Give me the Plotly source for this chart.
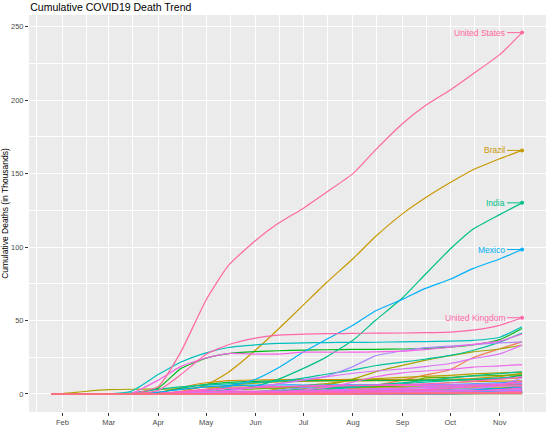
import math
import plotly.graph_objects as go

# semi-monthly snapshot dates, cumulative deaths in thousands
dates = ["2020-01-25", "2020-02-01", "2020-02-15", "2020-03-01", "2020-03-15",
         "2020-04-01", "2020-04-15", "2020-05-01", "2020-05-15", "2020-06-01",
         "2020-06-15", "2020-07-01", "2020-07-15", "2020-08-01", "2020-08-15",
         "2020-09-01", "2020-09-15", "2020-10-01", "2020-10-15", "2020-11-01",
         "2020-11-15"]

afghanistan = [0, 0, 0, 0, 0, 0.004, 0.02, 0.06, 0.15, 0.3, 0.5, 0.7, 1.0, 1.3, 1.4, 1.4, 1.4, 1.5, 1.5, 1.5, 1.6]
algeria = [0, 0, 0, 0, 0.004, 0.06, 0.37, 0.45, 0.56, 0.7, 0.8, 0.9, 1.0, 1.2, 1.4, 1.5, 1.6, 1.7, 1.8, 1.9, 2.0]
argentina = [0, 0, 0, 0, 0, 0.02, 0.09, 0.2, 0.4, 0.6, 0.9, 1.3, 2.1, 3.8, 5.8, 9.4, 12.8, 16.5, 24.6, 30.8, 35.4]
armenia = [0, 0, 0, 0, 0, 0.002, 0.01, 0.03, 0.05, 0.1, 0.2, 0.4, 0.5, 0.7, 0.8, 0.9, 0.9, 0.9, 1.1, 1.5, 1.7]
australia = [0, 0, 0, 0, 0.005, 0.02, 0.06, 0.09, 0.1, 0.1, 0.1, 0.1, 0.12, 0.2, 0.4, 0.66, 0.82, 0.88, 0.9, 0.91, 0.91]
austria = [0, 0, 0, 0, 0.001, 0.15, 0.4, 0.58, 0.62, 0.67, 0.67, 0.7, 0.7, 0.72, 0.73, 0.73, 0.76, 0.79, 0.86, 1.0, 1.6]
bangladesh = [0, 0, 0, 0, 0, 0.005, 0.05, 0.16, 0.3, 0.6, 1.0, 1.8, 2.5, 3.1, 3.5, 4.1, 4.6, 5.0, 5.4, 5.9, 6.2]
belarus = [0, 0, 0, 0, 0, 0.002, 0.03, 0.1, 0.1, 0.2, 0.3, 0.4, 0.5, 0.6, 0.6, 0.7, 0.7, 0.8, 0.9, 1.0, 1.1]
belgium = [0, 0, 0, 0, 0.004, 0.83, 4.4, 7.6, 9.1, 9.5, 9.7, 9.75, 9.8, 9.85, 9.9, 9.9, 9.95, 10.0, 10.4, 11.9, 14.0]
bolivia = [0, 0, 0, 0, 0, 0.01, 0.03, 0.06, 0.17, 0.4, 0.65, 1.2, 2.0, 3.3, 4.6, 5.6, 6.6, 7.6, 8.3, 8.7, 8.9]
bosnia = [0, 0, 0, 0, 0, 0.01, 0.04, 0.06, 0.08, 0.15, 0.16, 0.17, 0.2, 0.3, 0.4, 0.5, 0.6, 0.7, 0.8, 1.1, 1.5]
brazil = [0, 0, 0, 0, 0, 0.24, 1.7, 6.0, 14.8, 29.9, 43.9, 60.6, 75.4, 92.0, 107.0, 122.6, 133.2, 143.9, 152.5, 160.1, 165.8]
bulgaria = [0, 0, 0, 0, 0, 0.01, 0.03, 0.07, 0.1, 0.13, 0.17, 0.23, 0.3, 0.37, 0.46, 0.6, 0.7, 0.8, 0.9, 1.3, 1.9]
canada = [0, 0, 0, 0, 0.001, 0.11, 1.2, 3.2, 5.7, 7.3, 8.2, 8.6, 8.8, 8.9, 9.0, 9.1, 9.2, 9.3, 9.6, 10.2, 11.1]
chile = [0, 0, 0, 0, 0, 0.01, 0.1, 0.23, 0.42, 1.05, 3.4, 5.7, 7.0, 9.3, 10.4, 11.3, 12.0, 12.7, 13.6, 14.4, 14.9]
china = [0.04, 0.26, 1.67, 2.87, 3.2, 3.3, 3.35, 4.64, 4.64, 4.64, 4.64, 4.64, 4.64, 4.65, 4.7, 4.7, 4.7, 4.7, 4.7, 4.7, 4.7]
colombia = [0, 0, 0, 0, 0, 0.02, 0.13, 0.28, 0.57, 0.94, 1.6, 3.6, 6.0, 10.1, 15.0, 19.4, 22.8, 26.0, 28.6, 30.6, 33.3]
costa_rica = [0, 0, 0, 0, 0, 0.002, 0.006, 0.006, 0.007, 0.01, 0.01, 0.02, 0.04, 0.2, 0.36, 0.5, 0.7, 0.8, 1.0, 1.2, 1.4]
croatia = [0, 0, 0, 0, 0, 0.005, 0.03, 0.08, 0.1, 0.1, 0.1, 0.1, 0.12, 0.14, 0.17, 0.2, 0.24, 0.28, 0.35, 0.5, 0.9]
czechia = [0, 0, 0, 0, 0, 0.02, 0.17, 0.23, 0.29, 0.32, 0.33, 0.35, 0.36, 0.38, 0.4, 0.43, 0.5, 0.72, 1.4, 3.5, 5.6]
denmark = [0, 0, 0, 0, 0.004, 0.1, 0.32, 0.44, 0.54, 0.57, 0.6, 0.6, 0.61, 0.62, 0.62, 0.63, 0.64, 0.65, 0.68, 0.71, 0.76]
dominican = [0, 0, 0, 0, 0, 0.04, 0.2, 0.3, 0.4, 0.5, 0.6, 0.7, 0.8, 1.0, 1.1, 1.7, 1.9, 2.1, 2.2, 2.3, 2.3]
ecuador = [0, 0, 0, 0, 0, 0.06, 0.4, 0.9, 2.7, 3.4, 4.0, 4.5, 5.1, 5.7, 6.0, 6.4, 10.9, 11.3, 12.3, 12.6, 13.0]
egypt = [0, 0, 0, 0, 0.002, 0.05, 0.16, 0.4, 0.6, 0.96, 1.5, 2.6, 3.6, 4.6, 5.0, 5.4, 5.6, 5.7, 6.0, 6.2, 6.4]
el_salvador = [0, 0, 0, 0, 0, 0, 0.006, 0.008, 0.02, 0.05, 0.1, 0.15, 0.3, 0.4, 0.5, 0.6, 0.7, 0.8, 0.85, 0.9, 0.97]
ethiopia = [0, 0, 0, 0, 0, 0, 0.003, 0.003, 0.005, 0.01, 0.03, 0.1, 0.2, 0.3, 0.5, 0.8, 1.0, 1.1, 1.3, 1.5, 1.6]
france = [0, 0, 0, 0.002, 0.13, 4.0, 17.2, 24.4, 27.5, 28.8, 29.4, 29.8, 30.1, 30.3, 30.4, 30.6, 31.0, 31.9, 33.3, 37.0, 44.5]
georgia = [0, 0, 0, 0, 0, 0, 0.003, 0.005, 0.012, 0.012, 0.013, 0.015, 0.016, 0.017, 0.017, 0.019, 0.03, 0.1, 0.2, 0.4, 0.7]
germany = [0, 0, 0, 0, 0.01, 0.93, 3.8, 6.6, 7.9, 8.6, 8.9, 9.0, 9.1, 9.2, 9.2, 9.3, 9.4, 9.5, 9.8, 10.5, 12.8]
greece = [0, 0, 0, 0, 0.004, 0.06, 0.1, 0.14, 0.16, 0.18, 0.18, 0.19, 0.19, 0.21, 0.23, 0.27, 0.32, 0.39, 0.5, 0.6, 1.1]
guatemala = [0, 0, 0, 0, 0, 0.001, 0.007, 0.02, 0.03, 0.1, 0.4, 0.9, 1.5, 2.1, 2.6, 3.0, 3.2, 3.3, 3.4, 3.6, 3.9]
haiti = [0, 0, 0, 0, 0, 0, 0.003, 0.008, 0.01, 0.04, 0.1, 0.11, 0.13, 0.16, 0.17, 0.18, 0.2, 0.22, 0.23, 0.23, 0.23]
honduras = [0, 0, 0, 0, 0, 0.007, 0.03, 0.07, 0.2, 0.3, 0.4, 0.8, 1.2, 1.4, 1.7, 2.0, 2.2, 2.3, 2.5, 2.6, 2.8]
hungary = [0, 0, 0, 0, 0, 0.02, 0.12, 0.31, 0.45, 0.52, 0.55, 0.58, 0.59, 0.6, 0.61, 0.61, 0.65, 0.8, 1.0, 1.7, 3.0]
india = [0, 0, 0, 0, 0.002, 0.05, 0.41, 1.22, 2.87, 5.4, 9.9, 17.4, 24.9, 36.5, 50.0, 65.3, 81.0, 98.7, 112.0, 122.1, 130.1]
indonesia = [0, 0, 0, 0, 0.005, 0.16, 0.47, 0.79, 1.08, 1.6, 2.2, 2.9, 3.8, 5.1, 6.2, 7.5, 9.1, 10.9, 12.3, 13.9, 15.0]
iran = [0, 0, 0, 0.05, 0.72, 3.04, 4.78, 6.03, 6.85, 7.8, 8.66, 10.8, 13.4, 16.3, 19.2, 21.6, 23.6, 26.2, 29.6, 35.3, 41.5]
iraq = [0, 0, 0, 0, 0.01, 0.04, 0.07, 0.09, 0.11, 0.18, 0.39, 1.4, 2.6, 4.5, 5.6, 6.8, 8.1, 9.1, 10.0, 10.9, 11.6]
ireland = [0, 0, 0, 0, 0.002, 0.1, 0.7, 1.3, 1.5, 1.65, 1.7, 1.74, 1.75, 1.76, 1.77, 1.78, 1.79, 1.81, 1.84, 1.9, 1.97]
israel = [0, 0, 0, 0, 0, 0.02, 0.13, 0.21, 0.26, 0.28, 0.3, 0.32, 0.38, 0.51, 0.65, 0.97, 1.2, 1.6, 2.2, 2.5, 2.7]
italy = [0, 0, 0, 0.03, 1.81, 13.2, 21.6, 28.0, 31.6, 33.4, 34.4, 34.8, 35.0, 35.1, 35.2, 35.5, 35.6, 35.9, 36.4, 38.6, 45.7]
japan = [0, 0, 0, 0, 0.03, 0.06, 0.15, 0.43, 0.7, 0.89, 0.92, 0.97, 0.98, 1.0, 1.1, 1.2, 1.4, 1.5, 1.6, 1.7, 1.9]
jordan = [0, 0, 0, 0, 0, 0.002, 0.007, 0.009, 0.009, 0.01, 0.01, 0.01, 0.01, 0.01, 0.01, 0.02, 0.03, 0.1, 0.3, 0.6, 1.3]
kazakhstan = [0, 0, 0, 0, 0, 0, 0.01, 0.02, 0.02, 0.04, 0.07, 0.2, 0.4, 1.1, 1.5, 1.7, 1.7, 1.8, 1.8, 2.0, 2.1]
kenya = [0, 0, 0, 0, 0, 0.001, 0.01, 0.02, 0.04, 0.06, 0.1, 0.1, 0.2, 0.3, 0.5, 0.6, 0.65, 0.7, 0.8, 0.9, 1.2]
korea_south = [0, 0, 0, 0.02, 0.08, 0.17, 0.23, 0.25, 0.26, 0.27, 0.28, 0.28, 0.29, 0.3, 0.31, 0.32, 0.36, 0.41, 0.44, 0.46, 0.5]
kuwait = [0, 0, 0, 0, 0, 0, 0.001, 0.03, 0.1, 0.2, 0.27, 0.35, 0.37, 0.4, 0.45, 0.5, 0.56, 0.6, 0.7, 0.8, 0.86]
kyrgyzstan = [0, 0, 0, 0, 0, 0, 0.005, 0.01, 0.01, 0.02, 0.02, 0.05, 0.9, 1.1, 1.2, 1.2, 1.2, 1.2, 1.3, 1.3, 1.3]
lebanon = [0, 0, 0, 0, 0.004, 0.02, 0.02, 0.02, 0.03, 0.03, 0.03, 0.03, 0.04, 0.06, 0.1, 0.2, 0.2, 0.3, 0.4, 0.6, 0.7]
mexico = [0, 0, 0, 0, 0, 0.03, 0.45, 2.06, 5.18, 10.0, 17.6, 28.5, 36.9, 46.7, 56.5, 64.4, 71.7, 78.1, 85.3, 91.9, 98.3]
moldova = [0, 0, 0, 0, 0, 0.004, 0.04, 0.1, 0.18, 0.3, 0.4, 0.6, 0.7, 0.8, 0.9, 1.1, 1.2, 1.4, 1.6, 1.8, 2.0]
morocco = [0, 0, 0, 0, 0, 0.04, 0.13, 0.17, 0.19, 0.2, 0.2, 0.23, 0.27, 0.4, 0.7, 1.1, 1.6, 2.0, 2.6, 3.6, 4.5]
netherlands = [0, 0, 0, 0, 0.02, 1.2, 3.1, 4.8, 5.6, 5.96, 6.1, 6.1, 6.1, 6.15, 6.2, 6.2, 6.3, 6.4, 6.8, 7.5, 8.6]
nigeria = [0, 0, 0, 0, 0, 0.002, 0.01, 0.06, 0.17, 0.3, 0.4, 0.6, 0.7, 0.87, 0.97, 1.0, 1.08, 1.1, 1.13, 1.14, 1.16]
north_macedonia = [0, 0, 0, 0, 0, 0.01, 0.04, 0.08, 0.1, 0.12, 0.2, 0.3, 0.4, 0.5, 0.6, 0.65, 0.69, 0.75, 0.8, 0.9, 1.1]
oman = [0, 0, 0, 0, 0, 0, 0.002, 0.01, 0.02, 0.05, 0.1, 0.2, 0.3, 0.5, 0.6, 0.7, 0.9, 1.0, 1.1, 1.2, 1.3]
pakistan = [0, 0, 0, 0, 0, 0.02, 0.1, 0.4, 0.8, 1.5, 2.6, 4.3, 5.2, 5.8, 6.2, 6.3, 6.4, 6.5, 6.6, 6.8, 7.1]
panama = [0, 0, 0, 0, 0, 0.03, 0.1, 0.18, 0.29, 0.3, 0.4, 0.6, 0.8, 1.2, 1.4, 1.6, 1.7, 2.2, 2.3, 2.4, 2.6]
paraguay = [0, 0, 0, 0, 0, 0.003, 0.008, 0.01, 0.01, 0.01, 0.01, 0.02, 0.03, 0.09, 0.17, 0.3, 0.5, 0.7, 0.9, 1.2, 1.5]
peru = [0, 0, 0, 0, 0, 0.03, 0.33, 1.2, 2.4, 4.5, 6.9, 9.7, 12.0, 18.6, 25.9, 29.3, 31.4, 32.6, 33.6, 34.7, 35.4]
philippines = [0, 0, 0, 0, 0.01, 0.1, 0.35, 0.57, 0.8, 0.96, 1.1, 1.3, 1.8, 2.1, 2.4, 3.6, 4.9, 5.8, 6.5, 7.2, 7.6]
poland = [0, 0, 0, 0, 0.003, 0.03, 0.29, 0.64, 0.9, 1.06, 1.2, 1.46, 1.6, 1.7, 1.8, 2.0, 2.2, 2.6, 3.4, 5.8, 11.0]
portugal = [0, 0, 0, 0, 0, 0.19, 0.6, 0.99, 1.2, 1.4, 1.5, 1.6, 1.7, 1.74, 1.79, 1.82, 1.87, 1.97, 2.15, 2.5, 3.3]
romania = [0, 0, 0, 0, 0, 0.05, 0.37, 0.7, 0.98, 1.2, 1.3, 1.6, 2.0, 2.4, 2.6, 3.0, 3.4, 4.1, 5.1, 6.6, 8.5]
russia = [0, 0, 0, 0, 0, 0.02, 0.3, 1.1, 2.3, 4.7, 6.8, 9.3, 11.6, 14.1, 15.6, 17.0, 18.6, 20.7, 24.0, 27.3, 33.2]
saudi_arabia = [0, 0, 0, 0, 0, 0.01, 0.07, 0.16, 0.3, 0.48, 0.95, 1.7, 2.6, 3.2, 3.6, 4.0, 4.4, 4.8, 5.1, 5.3, 5.5]
serbia = [0, 0, 0, 0, 0, 0.02, 0.1, 0.2, 0.23, 0.24, 0.25, 0.27, 0.4, 0.6, 0.67, 0.7, 0.74, 0.76, 0.8, 0.9, 1.2]
south_africa = [0, 0, 0, 0, 0, 0.002, 0.03, 0.1, 0.26, 0.7, 1.3, 2.7, 4.3, 8.0, 11.7, 14.4, 15.6, 16.7, 18.2, 19.1, 20.0]
spain = [0, 0, 0, 0, 0.29, 9.4, 18.6, 24.5, 27.5, 27.1, 27.1, 28.4, 28.4, 28.4, 28.6, 29.1, 30.2, 31.8, 33.8, 35.9, 40.8]
sudan = [0, 0, 0, 0, 0, 0.002, 0.005, 0.04, 0.1, 0.3, 0.4, 0.6, 0.7, 0.8, 0.8, 0.8, 0.8, 0.8, 0.8, 0.8, 0.9]
sweden = [0, 0, 0, 0, 0.003, 0.24, 1.3, 2.6, 3.7, 4.4, 5.0, 5.4, 5.6, 5.7, 5.8, 5.8, 5.8, 5.9, 5.9, 6.0, 6.2]
switzerland = [0, 0, 0, 0, 0.01, 0.43, 1.2, 1.7, 1.8, 1.9, 1.9, 1.96, 1.97, 1.98, 2.0, 2.0, 2.05, 2.07, 2.1, 2.9, 4.0]
tunisia = [0, 0, 0, 0, 0, 0.01, 0.04, 0.04, 0.05, 0.05, 0.05, 0.05, 0.05, 0.05, 0.05, 0.06, 0.1, 0.2, 0.6, 1.3, 1.9]
turkey = [0, 0, 0, 0, 0, 0.17, 1.6, 3.1, 3.9, 4.5, 4.8, 5.2, 5.4, 5.8, 5.9, 6.4, 6.9, 7.6, 8.7, 10.1, 11.6]
ukraine = [0, 0, 0, 0, 0, 0.02, 0.12, 0.3, 0.5, 0.7, 0.8, 1.0, 1.2, 1.6, 1.9, 2.6, 3.0, 3.7, 4.9, 6.3, 8.4]
uae = [0, 0, 0, 0, 0, 0.003, 0.03, 0.1, 0.2, 0.27, 0.3, 0.3, 0.33, 0.34, 0.36, 0.38, 0.41, 0.42, 0.45, 0.48, 0.52]
uk = [0, 0, 0, 0, 0.02, 2.4, 13.0, 27.0, 33.5, 38.0, 40.0, 40.7, 41.0, 41.2, 41.4, 41.5, 41.7, 42.1, 43.4, 46.7, 51.9]
us = [0, 0, 0, 0.001, 0.06, 5.1, 28.3, 64.0, 87.5, 104.5, 116.0, 126.5, 137.0, 150.0, 166.0, 184.0, 196.0, 207.0, 217.7, 231.0, 246.0]
uzbekistan = [0, 0, 0, 0, 0, 0.002, 0.004, 0.008, 0.01, 0.01, 0.02, 0.03, 0.06, 0.1, 0.2, 0.3, 0.4, 0.5, 0.57, 0.59, 0.61]
venezuela = [0, 0, 0, 0, 0, 0.003, 0.01, 0.01, 0.01, 0.01, 0.02, 0.05, 0.09, 0.15, 0.25, 0.37, 0.5, 0.6, 0.7, 0.8, 0.85]
yemen = [0, 0, 0, 0, 0, 0, 0, 0.002, 0.01, 0.1, 0.2, 0.3, 0.4, 0.4, 0.5, 0.6, 0.6, 0.6, 0.6, 0.6, 0.6]
zimbabwe = [0, 0, 0, 0, 0, 0.001, 0.003, 0.004, 0.004, 0.004, 0.006, 0.007, 0.02, 0.07, 0.15, 0.2, 0.22, 0.23, 0.24, 0.25, 0.26]

countries = [
    ("Afghanistan", afghanistan), ("Algeria", algeria), ("Argentina", argentina),
    ("Armenia", armenia), ("Australia", australia), ("Austria", austria),
    ("Bangladesh", bangladesh), ("Belarus", belarus), ("Belgium", belgium),
    ("Bolivia", bolivia), ("Bosnia and Herzegovina", bosnia), ("Brazil", brazil),
    ("Bulgaria", bulgaria), ("Canada", canada), ("Chile", chile), ("China", china),
    ("Colombia", colombia), ("Costa Rica", costa_rica), ("Croatia", croatia),
    ("Czechia", czechia), ("Denmark", denmark), ("Dominican Republic", dominican),
    ("Ecuador", ecuador), ("Egypt", egypt), ("El Salvador", el_salvador),
    ("Ethiopia", ethiopia), ("France", france), ("Georgia", georgia),
    ("Germany", germany), ("Greece", greece), ("Guatemala", guatemala),
    ("Haiti", haiti), ("Honduras", honduras), ("Hungary", hungary), ("India", india),
    ("Indonesia", indonesia), ("Iran", iran), ("Iraq", iraq), ("Ireland", ireland),
    ("Israel", israel), ("Italy", italy), ("Japan", japan), ("Jordan", jordan),
    ("Kazakhstan", kazakhstan), ("Kenya", kenya), ("Korea, South", korea_south),
    ("Kuwait", kuwait), ("Kyrgyzstan", kyrgyzstan), ("Lebanon", lebanon),
    ("Mexico", mexico), ("Moldova", moldova), ("Morocco", morocco),
    ("Netherlands", netherlands), ("Nigeria", nigeria),
    ("North Macedonia", north_macedonia), ("Oman", oman), ("Pakistan", pakistan),
    ("Panama", panama), ("Paraguay", paraguay), ("Peru", peru),
    ("Philippines", philippines), ("Poland", poland), ("Portugal", portugal),
    ("Romania", romania), ("Russia", russia), ("Saudi Arabia", saudi_arabia),
    ("Serbia", serbia), ("South Africa", south_africa), ("Spain", spain),
    ("Sudan", sudan), ("Sweden", sweden), ("Switzerland", switzerland),
    ("Tunisia", tunisia), ("Turkey", turkey), ("Ukraine", ukraine),
    ("United Arab Emirates", uae), ("United Kingdom", uk), ("United States", us),
    ("Uzbekistan", uzbekistan), ("Venezuela", venezuela), ("Yemen", yemen),
    ("Zimbabwe", zimbabwe),
]

labelled = ["United States", "Brazil", "India", "Mexico", "United Kingdom"]


# ggplot-like hue palette (HCL, c=100, l=65)
def hcl_to_hex(h, c=100, l=65):
    xn, yn, zn = 95.047, 100.0, 108.883
    un = 4 * xn / (xn + 15 * yn + 3 * zn)
    vn = 9 * yn / (xn + 15 * yn + 3 * zn)
    u = c * math.cos(math.radians(h))
    v = c * math.sin(math.radians(h))
    y = yn * ((l + 16) / 116) ** 3
    up = u / (13 * l) + un
    vp = v / (13 * l) + vn
    x = 9 * y * up / (4 * vp)
    z = y * (12 - 3 * up - 20 * vp) / (4 * vp)
    x, y, z = x / 100, y / 100, z / 100
    r = 3.2404542 * x - 1.5371385 * y - 0.4985314 * z
    g = -0.9692660 * x + 1.8760108 * y + 0.0415560 * z
    b = 0.0556434 * x - 0.2040259 * y + 1.0572252 * z
    out = []
    for ch in (r, g, b):
        ch = 12.92 * ch if ch <= 0.0031308 else 1.055 * ch ** (1 / 2.4) - 0.055
        out.append(int(round(min(max(ch, 0), 1) * 255)))
    return "#%02x%02x%02x" % tuple(out)


n = len(countries)
colors = [hcl_to_hex(15 + 360 * i / n) for i in range(n)]

fig = go.Figure()

for (name, vals), col in zip(countries, colors):
    fig.add_trace(go.Scatter(
        x=dates, y=vals, mode="lines", name=name,
        line=dict(color=col, width=1.2, shape="spline", smoothing=0.5),
        hoverinfo="name+y"
    ))

# end points + labels
for (name, vals), col in zip(countries, colors):
    if name not in labelled:
        continue
    fig.add_trace(go.Scatter(
        x=[dates[-1]], y=[vals[-1]], mode="markers",
        marker=dict(color=col, size=4), hoverinfo="skip"
    ))
    fig.add_annotation(
        x=dates[-1], y=vals[-1], text=name,
        showarrow=True, arrowhead=0, arrowwidth=1, arrowcolor=col,
        ax=-15, ay=0, xanchor="right",
        font=dict(size=8.5, color=col)
    )

fig.update_layout(
    width=550, height=430,
    showlegend=False,
    paper_bgcolor="white",
    plot_bgcolor="#EBEBEB",
    margin=dict(l=29, r=4, t=15, b=18),
    font=dict(family="Liberation Sans, Arial", color="#4D4D4D"),
    title=dict(text="Cumulative COVID19 Death Trend", x=0.055, xanchor="left",
               y=0.984, yanchor="middle", font=dict(size=10.5, color="black")),
)

fig.update_xaxes(
    type="date", range=["2020-01-11", "2020-11-30"],
    tick0="2020-02-01", dtick="M1", tickformat="%b",
    ticks="outside", ticklen=3, tickcolor="#333333",
    tickfont=dict(size=7.5, color="#4D4D4D"),
    showgrid=True, gridcolor="white", gridwidth=1.1,
    minor=dict(tick0="2020-01-16", dtick="M1", showgrid=True,
               gridcolor="white", gridwidth=0.5),
    zeroline=False, showline=False, automargin=False
)

fig.update_yaxes(
    range=[-12.3, 258], tick0=0, dtick=50,
    ticks="outside", ticklen=3, tickcolor="#333333",
    tickfont=dict(size=7.5, color="#4D4D4D"),
    showgrid=True, gridcolor="white", gridwidth=1.1,
    minor=dict(tick0=25, dtick=50, showgrid=True, gridcolor="white", gridwidth=0.5),
    zeroline=False, showline=False, automargin=False,
    title=dict(text="Cumulative Deaths (in Thousands)", standoff=4,
               font=dict(size=8.5, color="black"))
)

# page body has a default 8px margin; drop it so the figure sits at the corner
fig.write_html("out.html", config={"displayModeBar": False},
               post_script="document.body.style.margin='0';")
